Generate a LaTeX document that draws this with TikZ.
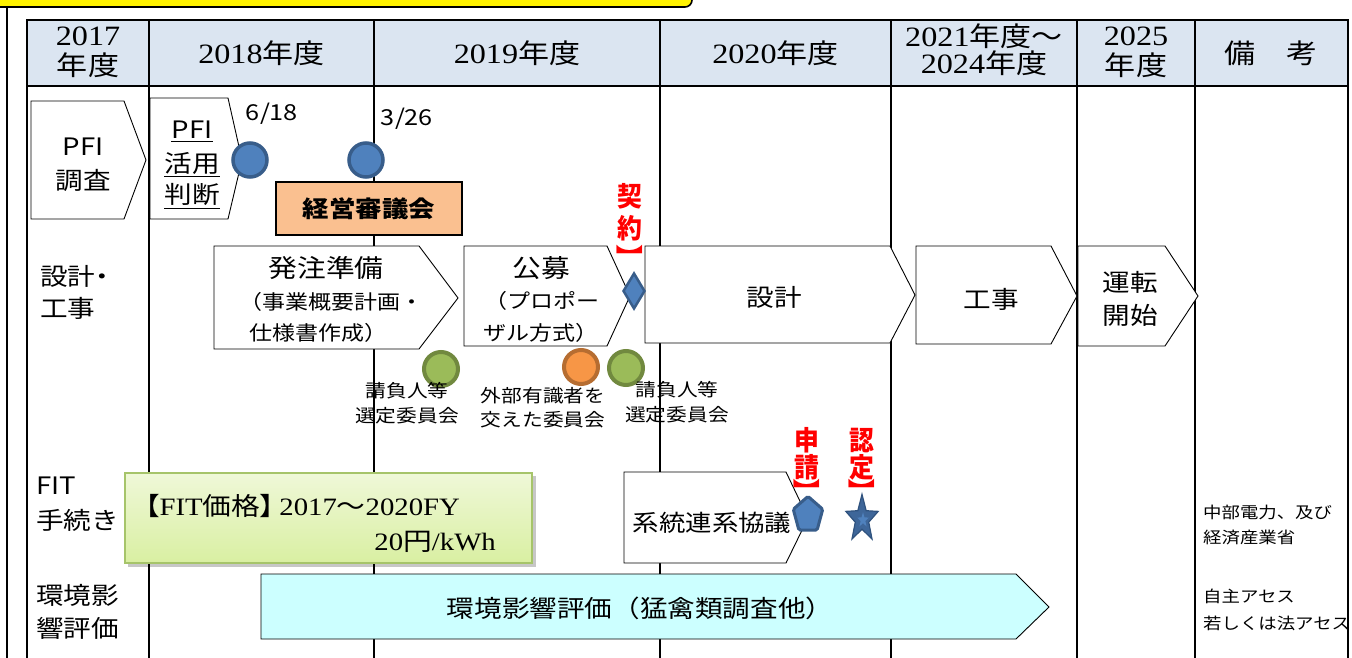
\documentclass[tikz,border=0pt]{standalone}
\usepackage{fontspec}
\setmainfont{Noto Sans CJK JP}
\newfontfamily\ser{Liberation Serif}
\usetikzlibrary{shapes.geometric}
\definecolor{hdr}{HTML}{DBE5F1}
\definecolor{blu}{HTML}{4F81BD}
\definecolor{bluD}{HTML}{385D8A}
\definecolor{grn}{HTML}{9BBB59}
\definecolor{grnD}{HTML}{71893F}
\definecolor{org}{HTML}{F79646}
\definecolor{orgD}{HTML}{B66D31}
\definecolor{boxO}{HTML}{FAC090}
\definecolor{fitT}{HTML}{EFF8D8}
\definecolor{fitB}{HTML}{D9EFA2}
\definecolor{fitE}{HTML}{A6C46A}
\definecolor{envC}{HTML}{CCFFFF}
\definecolor{starB}{HTML}{3E6699}
\definecolor{starD}{HTML}{2F527E}
\definecolor{redT}{HTML}{FF0000}
\newcommand\FS[1]{\fontsize{#1}{#1}\selectfont}
\newcommand\dg[1]{{\ser\fontsize{28}{28}\selectfont #1}}
\newcommand\sr[1]{{\ser #1}}
\begin{document}
\begin{tikzpicture}[x=1pt,y=-1pt,
  txt/.style={inner sep=0pt, xscale=1.15},
  hdt/.style={txt, font=\FS{27}},
  labt/.style={txt, font=\FS{24}, anchor=west},
  mnt/.style={txt, font=\FS{24}},
  subt/.style={txt, font=\FS{20}},
  cmt/.style={txt, font=\FS{18}},
  rmt/.style={txt, font=\FS{16}, anchor=west},
  rdt/.style={inner sep=0pt, xscale=0.92, font=\FS{27}\bfseries, text=redT},
  rbr/.style={inner sep=0pt, rotate=-90, font=\FS{27}\bfseries, text=redT},
  pentb/.style={draw=black, fill=white, line width=0.9pt},
  gridl/.style={draw=black, line width=1.1pt},
  bdot/.style={circle, fill=blu, draw=bluD, line width=3.5pt, minimum size=34pt, inner sep=0pt},
  gdot/.style={circle, fill=grn, draw=grnD, line width=4pt, minimum size=34pt, inner sep=0pt},
  odot/.style={circle, fill=org, draw=orgD, line width=4pt, minimum size=34pt, inner sep=0pt}]
\useasboundingbox (0,0) rectangle (1352,658);
% top yellow band and outer frame line
\filldraw[fill=yellow, draw=black, line width=1.6pt, rounded corners=7pt] (-10,-30) -- (-10,7) -- (692,7) -- (692,-30) -- cycle;
\draw[black, line width=2.4pt] (7,8) -- (7,660);
% header
\fill[hdr] (27,20) rectangle (1348,86);
\draw[gridl] (27,20) rectangle (1348,86);
\foreach \cx in {27,149,374,660,891,1077,1195,1348}{\draw[gridl] (\cx,20) -- (\cx,660);}
\node[hdt] (h1a) at (88,36) {\dg{2017}};
\node[hdt] (h1b) at (88,65) {年度};
\node[hdt] (h2) at (261.5,53) {\dg{2018}年度};
\node[hdt] (h3) at (517,53) {\dg{2019}年度};
\node[hdt] (h4) at (775.5,53) {\dg{2020}年度};
\node[hdt] (h5a) at (984,36) {\dg{2021}年度～};
\node[hdt] (h5b) at (984,63) {\dg{2024}年度};
\node[hdt] (h6a) at (1136,36) {\dg{2025}};
\node[hdt] (h6b) at (1136,65) {年度};
\node[hdt] (h7) at (1271,53) {備　考};
% row labels
\draw[pentb] (31,101) -- (124,101) -- (146,160) -- (124,219) -- (31,219) -- cycle;
\node[mnt] (pfi1) at (83,147) {PFI};
\node[mnt] (pfi2) at (83,180) {調査};
\node[labt, font=\FS{24}\addfontfeatures{RawFeature=+palt}] (sk1) at (40,276) {設計・};
\node[labt] (sk2) at (40,308) {工事};
\node[labt] (fit1) at (36,486) {FIT};
\node[labt] (fit2) at (36,520) {手続き};
\node[labt] (env1) at (36,595) {環境影};
\node[labt] (env2) at (36,628) {響評価};
% PFI katsuyo handan
\draw[pentb] (150,98) -- (228,98) -- (242,160) -- (228,219) -- (150,219) -- cycle;
\node[mnt] (ka1) at (192,130) {PFI};
\node[mnt] (ka2) at (192,163) {活用};
\node[mnt] (ka3) at (192,195) {判断};
\draw[line width=0.9pt] ([yshift=-2pt]ka1.south west) -- ([yshift=-2pt]ka1.south east);
\draw[line width=0.9pt] ([yshift=-2pt]ka2.south west) -- ([yshift=-2pt]ka2.south east);
\draw[line width=0.9pt] ([yshift=-2pt]ka3.south west) -- ([yshift=-2pt]ka3.south east);
\node[bdot] (c618) at (250,160) {};
\node[bdot] (c326) at (366,160) {};
\node[txt, font=\FS{22}] (d618) at (272,114) {6/18};
\node[txt, font=\FS{22}] (d326) at (407,119) {3/26};
% keiei shingikai
\node[draw=black, fill=boxO, line width=1.8pt, minimum width=186pt, minimum height=53pt, inner sep=0pt] (keiei) at (369,208.5) {};
\node[txt, font=\FS{23}\bfseries] (keieiT) at (369,209) {経営審議会};
% design row
\draw[pentb] (214,246) -- (419,246) -- (458,298) -- (419,349) -- (214,349) -- cycle;
\node[txt, font=\FS{25}] (hc1) at (326,268) {発注準備};
\node[subt] (hc2) at (331,302) {（事業概要計画・};
\node[subt] (hc3) at (318,333) {仕様書作成）};
\draw[pentb] (464,246) -- (607,246) -- (630,296) -- (607,346) -- (464,346) -- cycle;
\node[txt, font=\FS{25}] (kb1) at (541,268) {公募};
\node[subt] (kb2) at (542,301) {（プロポー};
\node[subt] (kb3) at (541,333) {ザル方式）};
\draw[pentb] (645,246) -- (890,246) -- (915,295) -- (890,343) -- (645,343) -- cycle;
\node[mnt] (sekkei) at (774,297) {設計};
\draw[pentb] (916,246) -- (1051,246) -- (1077,296) -- (1051,344) -- (916,344) -- cycle;
\node[mnt] (kouji) at (991,299) {工事};
\draw[pentb] (1078,246) -- (1165,246) -- (1198,296) -- (1165,346) -- (1078,346) -- cycle;
\node[mnt] (un1) at (1130,282) {運転};
\node[mnt] (un2) at (1130,315) {開始};
\node[diamond, fill=blu, draw=bluD, line width=2.5pt, minimum width=22pt, minimum height=36pt, inner sep=0pt] (kd) at (634,291) {};
\node[rdt] (ky1) at (630,196) {契};
\node[rdt] (ky2) at (630,228) {約};
\node[rbr] (ky3) at (630,258) {】};
% committees
\node[gdot] (g1) at (441,369) {};
\node[odot] (o1) at (581,367) {};
\node[gdot] (g2) at (626,368) {};
\node[cmt] (cm1a) at (407,391) {請負人等};
\node[cmt] (cm1b) at (407,416) {選定委員会};
\node[cmt] (cm2a) at (543,396) {外部有識者を};
\node[cmt] (cm2b) at (543,420) {交えた委員会};
\node[cmt] (cm3a) at (677,390) {請負人等};
\node[cmt] (cm3b) at (677,415) {選定委員会};
% FIT
\fill[black, opacity=0.22] (128,476) rectangle (536,567);
\shade[top color=fitT, bottom color=fitB] (125,473) rectangle (532,563);
\draw[fitE, line width=1.6pt] (125,473) rectangle (532,563);
\node[txt, font=\FS{25}\addfontfeatures{RawFeature=+palt}, anchor=west] (fp1) at (145,506) {【\sr{FIT}価格】\,\sr{2017}～\sr{2020FY}};
\node[txt, font=\FS{25}, anchor=east] (fp2) at (496,542) {\sr{20}円\sr{/kWh}};
\draw[pentb] (624,472) -- (786,472) -- (808,518) -- (786,563) -- (624,563) -- cycle;
\node[txt, font=\FS{23}] (kt) at (712,523) {系統連系協議};
\node[regular polygon, regular polygon sides=5, fill=blu, draw=bluD, line width=3pt, minimum size=31pt, inner sep=0pt, yscale=1.2, rounded corners=1.5pt] (pm) at (808,515) {};
\node[star, star points=5, star point ratio=2.4, fill=starB, draw=starD, line width=1.2pt, minimum size=34pt, inner sep=0pt, yscale=1.45] (st) at (862,519) {};
\node[star, star points=5, star point ratio=2.4, fill=blu, minimum size=12pt, inner sep=0pt, yscale=1.3] (sti) at (863,520) {};
\node[rdt] (sh1) at (807,440) {申};
\node[rdt] (sh2) at (807,467) {請};
\node[rbr] (sh3) at (807,492) {】};
\node[rdt] (nt1) at (862,441) {認};
\node[rdt] (nt2) at (862,467) {定};
\node[rbr] (nt3) at (862,492) {】};
% environment
\draw[pentb, fill=envC] (261,574) -- (1016,574) -- (1049,607) -- (1016,639) -- (261,639) -- cycle;
\node[mnt] (envT) at (640,608) {環境影響評価（猛禽類調査他）};
% remarks
\node[rmt] (r1) at (1203,512) {中部電力、及び};
\node[rmt] (r2) at (1203,537) {経済産業省};
\node[rmt] (r3) at (1203,596) {自主アセス};
\node[rmt] (r4) at (1203,623) {若しくは法アセス};
\end{tikzpicture}
\end{document}
